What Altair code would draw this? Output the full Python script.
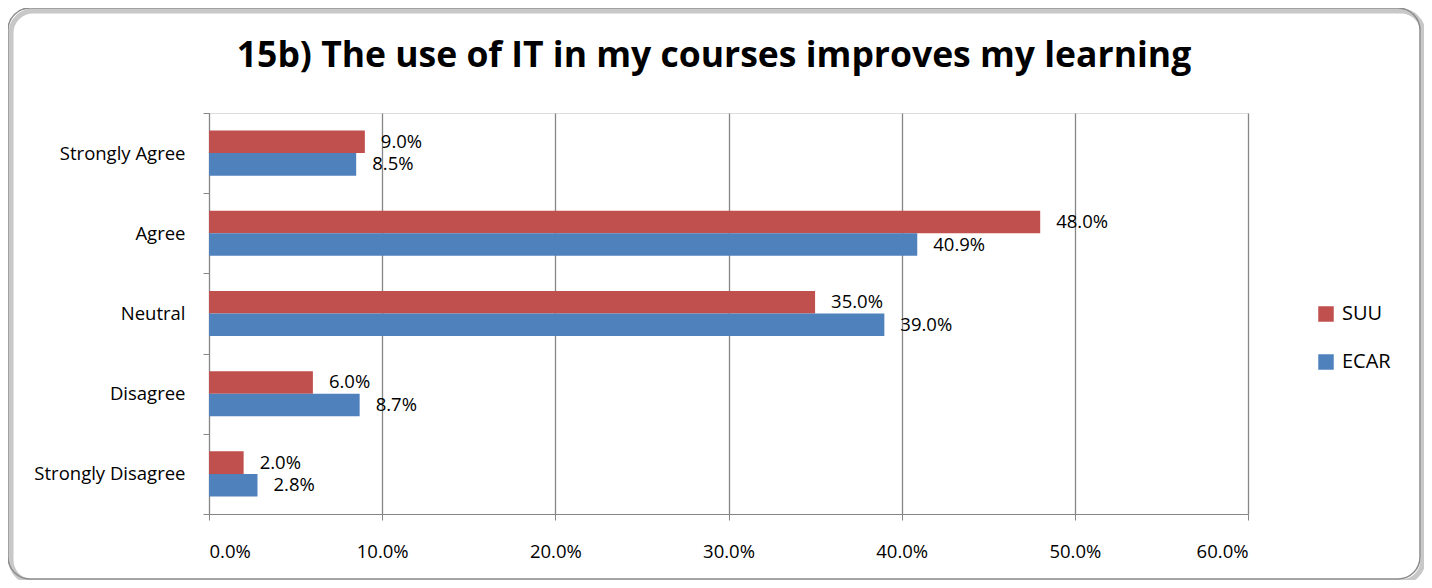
import altair as alt
import pandas as pd

categories = ["Strongly Agree", "Agree", "Neutral", "Disagree", "Strongly Disagree"]
series = ["SUU", "ECAR"]
suu = [0.090, 0.480, 0.350, 0.060, 0.020]
ecar = [0.085, 0.409, 0.390, 0.087, 0.028]
tick_values = [0.0, 0.1, 0.2, 0.3, 0.4, 0.5, 0.6]
colors = ["#C0504D", "#4F81BD"]
title = "15b) The use of IT in my courses improves my learning"

rows = []
for c, s, e in zip(categories, suu, ecar):
    rows.append({"cat": c, "series": "SUU", "v": s})
    rows.append({"cat": c, "series": "ECAR", "v": e})
df = pd.DataFrame(rows)

FONT = "Open Sans"
FS = 18.5
W, H = 1039, 401

base = alt.Chart(df).encode(
    y=alt.Y("cat:N", sort=categories, title=None,
            scale=alt.Scale(paddingInner=0, paddingOuter=0),
            axis=alt.Axis(tickBand="extent", labelFontSize=FS, labelFont=FONT,
                          labelColor="#000", labelPadding=18, tickSize=6,
                          domainColor="#868686", tickColor="#868686", grid=False)),
    yOffset=alt.YOffset("series:N", sort=series,
                        scale=alt.Scale(paddingInner=0, paddingOuter=0.78)),
)

bars = base.mark_bar().encode(
    x=alt.X("v:Q", title=None, scale=alt.Scale(domain=[0, 0.6]),
            axis=alt.Axis(values=tick_values, format=".1%", labelFontSize=FS, labelFont=FONT,
                          labelColor="#000", labelPadding=22, tickSize=6,
                          domainColor="#868686", tickColor="#868686",
                          gridColor="#868686", gridWidth=1.3)),
    color=alt.Color("series:N", sort=series, scale=alt.Scale(domain=series, range=colors),
                    legend=alt.Legend(title=None, orient="none", legendX=1107, legendY=191,
                                      symbolType="square", symbolSize=240, symbolStrokeWidth=0,
                                      labelFontSize=20, labelFont=FONT, labelColor="#000",
                                      rowPadding=28, labelOffset=6)),
)

labels = base.mark_text(align="left", baseline="middle", dx=16, font=FONT, fontSize=FS,
                        color="#000").encode(
    x="v:Q",
    text=alt.Text("v:Q", format=".1%"),
)

one = pd.DataFrame({"t": [title]})
title_mark = alt.Chart(one).mark_text(font=FONT, fontSize=35.5, fontWeight="bold",
                                      color="#000", align="center", baseline="middle").encode(
    x=alt.value(505), y=alt.value(-57), text="t:N")

shadow = alt.Chart(one).mark_rect(
    cornerRadius=22, fill=None, stroke="#c8c8c8", strokeWidth=5).encode(
    x=alt.value(-198), x2=alt.value(1214), y=alt.value(-102), y2=alt.value(469))
frame = alt.Chart(one).mark_rect(
    cornerRadius=22, fill=None, stroke="#8c8c8c", strokeWidth=1.5).encode(
    x=alt.value(-201), x2=alt.value(1211), y=alt.value(-105), y2=alt.value(466))

chart = alt.layer(shadow, frame, bars, labels, title_mark).properties(
    width=W, height=H,
    autosize=alt.AutoSizeParams(type="none"),
    padding={"left": 201, "top": 105, "right": 176, "bottom": 66},
).configure_view(stroke=None).configure(background="white")

chart.save("out.html", embed_options={"renderer": "svg", "actions": False})
